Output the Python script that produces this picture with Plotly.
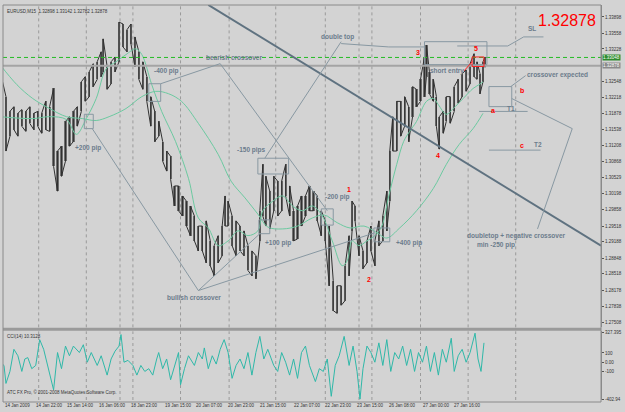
import plotly.graph_objects as go

# ---------------- data ----------------
symbol_title = "EURUSD,M15  1.32898 1.33142 1.32782 1.32878"
last_price = 1.32878
alert_price = 1.3305

bars = [2, 6, 10, 14, 18, 22, 26, 30, 34, 38, 42, 46, 50, 54, 58, 62, 66, 70, 74, 78,
        82, 86, 90, 94, 98, 102, 104, 108, 112, 116, 120, 124, 128, 132, 136, 140, 144, 148, 152, 156,
        160, 164, 168, 172, 176, 180, 184, 188, 192, 196, 200, 204, 208, 212, 216, 220, 224, 227, 230, 234,
        238, 242, 246, 250, 254, 258, 262, 265, 268, 272, 276, 280, 284, 288, 292, 296, 300, 304, 308, 312,
        316, 320, 324, 328, 332, 336, 340, 344, 348, 352, 355, 358, 362, 366, 370, 374, 378, 382, 386, 390,
        393, 396, 400, 404, 408, 412, 416, 420, 424, 428, 430, 433, 437, 440, 443, 447, 450, 454, 458, 462,
        466, 470, 474, 478, 481, 484, 487, 489]
high = [1.3259, 1.3223, 1.3192, 1.3202, 1.3188, 1.3196, 1.3192, 1.3202, 1.3188, 1.3192, 1.3188, 1.3213, 1.3202, 1.3240, 1.3109, 1.3119, 1.3171, 1.3181, 1.3192, 1.3202,
        1.3254, 1.3265, 1.3275, 1.3292, 1.3296, 1.3317, 1.3344, 1.3286, 1.3296, 1.3306, 1.3379, 1.3375, 1.3363, 1.3375, 1.3348, 1.3317, 1.3296, 1.3265, 1.3223, 1.3192,
        1.3171, 1.3129, 1.3109, 1.3098, 1.3036, 1.3036, 1.3015, 1.3004, 1.2994, 1.2973, 1.2952, 1.2952, 1.2963, 1.2921, 1.2911, 1.2932, 1.2952, 1.3015, 1.3004, 1.2973,
        1.2963, 1.2952, 1.2942, 1.2911, 1.2900, 1.2890, 1.2984, 1.3081, 1.3056, 1.3025, 1.3056, 1.3046, 1.3046, 1.3081, 1.3036, 1.2984, 1.2994, 1.3015, 1.3015, 1.3036,
        1.3025, 1.3015, 1.2984, 1.2963, 1.2952, 1.2838, 1.2827, 1.2827, 1.2869, 1.2932, 1.3004, 1.2994, 1.2932, 1.2900, 1.2921, 1.2952, 1.2921, 1.2963, 1.2973, 1.3025,
        1.3109, 1.3181, 1.3213, 1.3213, 1.3223, 1.3202, 1.3244, 1.3238, 1.3259, 1.3306, 1.3331, 1.3275, 1.3259, 1.3223, 1.3181, 1.3192, 1.3223, 1.3223, 1.3244, 1.3259,
        1.3271, 1.3279, 1.3292, 1.3313, 1.3296, 1.3271, 1.3296, 1.3306]
low = [1.3238, 1.3109, 1.3140, 1.3154, 1.3140, 1.3161, 1.3150, 1.3167, 1.3154, 1.3161, 1.3146, 1.3154, 1.3150, 1.3077, 1.3025, 1.3056, 1.3088, 1.3119, 1.3129, 1.3161,
       1.3192, 1.3213, 1.3223, 1.3244, 1.3259, 1.3265, 1.3275, 1.3238, 1.3250, 1.3275, 1.3296, 1.3327, 1.3317, 1.3334, 1.3286, 1.3259, 1.3238, 1.3213, 1.3161, 1.3129,
       1.3140, 1.3088, 1.3067, 1.3050, 1.2994, 1.2984, 1.2973, 1.2952, 1.2932, 1.2921, 1.2900, 1.2900, 1.2875, 1.2869, 1.2848, 1.2875, 1.2890, 1.2952, 1.2952, 1.2911,
       1.2890, 1.2900, 1.2890, 1.2859, 1.2848, 1.2842, 1.2921, 1.2973, 1.2952, 1.2946, 1.2984, 1.2973, 1.2984, 1.3015, 1.2973, 1.2921, 1.2925, 1.2952, 1.2973, 1.2984,
       1.2984, 1.2963, 1.2932, 1.2921, 1.2827, 1.2775, 1.2769, 1.2786, 1.2796, 1.2848, 1.2942, 1.2963, 1.2890, 1.2863, 1.2875, 1.2900, 1.2869, 1.2911, 1.2921, 1.2942,
       1.3004, 1.3109, 1.3109, 1.3140, 1.3161, 1.3129, 1.3181, 1.3202, 1.3213, 1.3223, 1.3265, 1.3229, 1.3213, 1.3161, 1.3113, 1.3146, 1.3171, 1.3167, 1.3192, 1.3209,
       1.3223, 1.3234, 1.3250, 1.3265, 1.3259, 1.3229, 1.3254, 1.3284]

fast_bars = [0, 33, 50, 67, 77, 87, 97, 107, 117, 127, 137, 143, 153, 163, 177, 190, 200, 210, 220, 230,
             240, 250, 260, 265, 275, 285, 295, 305, 315, 325, 335, 345, 350, 355, 362, 370, 378, 385, 392, 400,
             407, 413, 420, 430, 437, 442, 450, 457, 467, 477, 483, 487]
fast_ma = [1.3181, 1.3177, 1.3181, 1.3175, 1.3144, 1.3177, 1.3219, 1.3281, 1.3296, 1.3311, 1.3323, 1.3311, 1.3248, 1.3192, 1.3129, 1.3052, 1.2969, 1.2948, 1.2911, 1.2921,
           1.2942, 1.2932, 1.2942, 1.2984, 1.3004, 1.3015, 1.2994, 1.2984, 1.2994, 1.2973, 1.2921, 1.2869, 1.2879, 1.2921, 1.2911, 1.2921, 1.2932, 1.2952, 1.3015, 1.3081,
           1.3129, 1.3150, 1.3171, 1.3213, 1.3219, 1.3206, 1.3186, 1.3198, 1.3219, 1.3240, 1.3248, 1.3254]

slow_bars = [0, 17, 33, 50, 67, 83, 97, 110, 127, 143, 157, 170, 183, 200, 220, 233, 247, 260, 270, 285,
             300, 315, 327, 340, 353, 367, 380, 390, 403, 420, 437, 450, 463, 477, 487]
slow_ma = [1.3290, 1.3248, 1.3219, 1.3198, 1.3181, 1.3177, 1.3173, 1.3181, 1.3198, 1.3223, 1.3234, 1.3229, 1.3213, 1.3167, 1.3102, 1.3046, 1.3011, 1.2977, 1.2950, 1.2946,
           1.2952, 1.2969, 1.2975, 1.2959, 1.2948, 1.2952, 1.2938, 1.2927, 1.2948, 1.2984, 1.3031, 1.3081, 1.3123, 1.3156, 1.3188]

cci_bars = [0, 4, 6, 10, 14, 18, 22, 25, 28, 32, 36, 40, 44, 48, 54, 58, 62, 66, 70, 74,
            80, 84, 88, 92, 98, 102, 108, 112, 116, 120, 122, 125, 129, 134, 138, 142, 146, 150, 154, 158,
            160, 164, 168, 172, 176, 180, 182, 186, 190, 196, 200, 204, 206, 210, 214, 218, 222, 226, 230, 234,
            238, 242, 246, 250, 254, 258, 262, 266, 270, 276, 280, 284, 288, 292, 296, 300, 304, 308, 312, 318,
            322, 326, 330, 334, 338, 342, 347, 352, 356, 360, 363, 366, 370, 374, 378, 382, 386, 390, 394, 398,
            402, 406, 410, 414, 418, 422, 426, 430, 434, 438, 442, 446, 450, 455, 458, 462, 466, 470, 474, 479,
            482, 485, 488]
cci = [0, -35, -230, -100, 140, 70, -100, 35, 50, -70, -35, 245, 140, -35, -300, 105, -70, 175, 70, 175,
       105, 190, 0, 105, -35, 70, -140, 35, 120, 175, 300, 0, 20, -35, -140, -35, -100, -70, -140, 35,
       105, -70, 35, -190, -35, 105, -245, -70, 70, -35, 105, 35, 155, -70, 70, -20, 140, 245, 105, -175,
       -35, 35, -70, 105, -140, 105, 280, 35, 140, -35, -100, 105, 0, -140, 35, -175, 105, 175, -35, -210,
       -70, -100, 35, -370, -35, 70, 280, -35, 175, -100, -400, -70, 175, 105, 0, 210, -35, 245, -100, 105,
       35, 175, -35, 140, -100, 105, 0, 175, -100, 105, -140, 140, 0, 260, -100, 70, 140, 0, 105, 315,
       35, -100, 210]

price_ticks = [1.33898, 1.33558, 1.33228, 1.32548, 1.32218, 1.31878, 1.31538, 1.31208, 1.30868, 1.30529,
               1.30198, 1.29858, 1.29518, 1.29188, 1.28848, 1.28518, 1.28178, 1.27838, 1.27508]
cci_ticks = [327.395, 100, 0, -100, -402.94]
cci_tick_text = ["327.395", "100", "0.00", "-100", "-402.94"]

date_bars = [3, 34, 66, 98, 130, 164, 196, 228, 260, 294, 326, 358, 390, 424, 456]
date_labels = ["14 Jan 2009", "14 Jan 22:00", "15 Jan 14:00", "16 Jan 06:00", "18 Jan 23:00",
               "19 Jan 15:00", "20 Jan 07:00", "20 Jan 23:00", "21 Jan 15:00", "22 Jan 07:00",
               "22 Jan 23:00", "23 Jan 15:00", "26 Jan 08:00", "27 Jan 00:00", "27 Jan 16:00"]
grid_bars = [39, 87, 121, 134, 182, 231, 278, 328, 362, 375, 424, 472, 520]

# user-drawn chart objects (bar, price)
labels = [("bearish crossover", 236, 1.3304), ("-400 pip", 168, 1.3277), ("+200 pip", 89, 1.3115),
          ("bullish crossover", 196, 1.2802), ("-150 pips", 254, 1.3111), ("+100 pip", 280, 1.2917),
          ("-200 pip", 340, 1.3013), ("+400 pip", 412, 1.2917), ("double top", 340, 1.3348),
          ("short entry", 451, 1.3277), ("SL", 536, 1.3365), ("crossover expected", 562, 1.3269),
          ("T1", 515, 1.3198), ("T2", 542, 1.3123), ("doubletop + negative crossover", 521, 1.2932),
          ("min -250 pip", 500, 1.2913)]
marks = [("1", 352, 1.3029), ("2", 372, 1.2840), ("3", 421, 1.3315), ("4", 442, 1.3100),
         ("5", 480, 1.3323), ("a", 497, 1.3194), ("b", 526, 1.3236), ("c", 526, 1.3121)]
boxes = [(150, 162, 1.3250, 1.3213), (85, 94, 1.3186, 1.3156), (260, 291, 1.3094, 1.3061),
         (261, 272, 1.2965, 1.2936), (324, 336, 1.2988, 1.2954), (377, 393, 1.2948, 1.2919),
         (428, 491, 1.3338, 1.3290), (493, 516, 1.3244, 1.3202)]
polylines = [[(162, 1.3250), (222, 1.3292)],
             [(222, 1.3292), (330, 1.2984)],
             [(267, 1.3094), (344, 1.3338)],
             [(344, 1.3334), (392, 1.3327), (428, 1.3327)],
             [(93, 1.3156), (200, 1.2817)],
             [(200, 1.2817), (262, 1.2936)],
             [(200, 1.2817), (378, 1.2938)],
             [(516, 1.3219), (577, 1.3156), (542, 1.2946)],
             [(530, 1.3267), (515, 1.3244)],
             [(461, 1.3329), (512, 1.3329), (528, 1.3348), (548, 1.3348)],
             [(483, 1.3192), (532, 1.3192)],
             [(493, 1.3111), (545, 1.3111)]]
trendline = [(210, 1.3415), (606, 1.2911)]
red_box = (476, 488, 1.3306, 1.3286)
red_line = [(476, 1.3296), (468, 1.3277)]

# ---------------- figure ----------------
BG = "#d3d3d3"
TXT = "#6c7c8c"
GRID = "#9a9a9a"
DRAW = "#8898a2"

fig = go.Figure()

# candle ranges (vertical bars from low to high) + connecting zigzag
fig.add_trace(go.Bar(x=bars, y=[h - l for h, l in zip(high, low)], base=low, width=2.2,
                     marker=dict(color="#707070", line=dict(width=0)), yaxis="y"))
zx, zy = [], []
for i, (b, h, l) in enumerate(zip(bars, high, low)):
    zx += [b, b]
    zy += [l, h] if i % 2 == 0 else [h, l]
fig.add_trace(go.Scatter(x=zx, y=zy, mode="lines", line=dict(color="#303030", width=1), yaxis="y"))
fig.add_trace(go.Scatter(x=slow_bars, y=slow_ma, mode="lines", line=dict(color="#6cc9a0", width=1, shape="spline"), yaxis="y"))
fig.add_trace(go.Scatter(x=fast_bars, y=fast_ma, mode="lines", line=dict(color="#6cc9a0", width=1, shape="spline"), yaxis="y"))
fig.add_trace(go.Scatter(x=cci_bars, y=cci, mode="lines", line=dict(color="#2fb8a8", width=1), yaxis="y2"))

shapes = []
for g in grid_bars:
    for yr in ("y domain", "y2 domain"):
        shapes.append(dict(type="line", xref="x", yref=yr, x0=g, x1=g, y0=0, y1=1, layer="below",
                           line=dict(color=GRID, width=1, dash="dot")))
shapes.append(dict(type="line", xref="x", yref="y", x0=3, x1=606, y0=alert_price, y1=alert_price,
                   line=dict(color="#22bb22", width=1, dash="4px,3px")))
shapes.append(dict(type="line", xref="x", yref="y", x0=3, x1=606, y0=last_price, y1=last_price,
                   line=dict(color="#a4a4a4", width=2)))
shapes.append(dict(type="line", xref="x", yref="y", x0=trendline[0][0], y0=trendline[0][1],
                   x1=trendline[1][0], y1=trendline[1][1], line=dict(color="#5f7280", width=2)))
for pl in polylines:
    for (a, b) in zip(pl[:-1], pl[1:]):
        shapes.append(dict(type="line", xref="x", yref="y", x0=a[0], y0=a[1], x1=b[0], y1=b[1],
                           line=dict(color=DRAW, width=1)))
for (x0, x1, y0, y1) in boxes:
    shapes.append(dict(type="rect", xref="x", yref="y", x0=x0, x1=x1, y0=y0, y1=y1,
                       line=dict(color=DRAW, width=1)))
shapes.append(dict(type="rect", xref="x", yref="y", x0=red_box[0], x1=red_box[1], y0=red_box[2], y1=red_box[3],
                   line=dict(color="#ff2020", width=1)))
shapes.append(dict(type="line", xref="x", yref="y", x0=red_line[0][0], y0=red_line[0][1],
                   x1=red_line[1][0], y1=red_line[1][1], line=dict(color="#ff2020", width=1)))
# frame / separators
shapes.append(dict(type="line", xref="paper", yref="paper", x0=0, x1=1, y0=0.183, y1=0.183,
                   line=dict(color="#9a9a9a", width=3)))
shapes.append(dict(type="rect", xref="paper", yref="paper", x0=0, x1=1, y0=0.0, y1=1,
                   line=dict(color="#8a8a8a", width=1)))

ann = []
for t, b, p in labels:
    ann.append(dict(text="<b>%s</b>" % t, x=b, y=p, xref="x", yref="y", showarrow=False,
                    font=dict(family="Liberation Sans", size=6.5, color=TXT)))
for t, b, p in marks:
    ann.append(dict(text="<b>%s</b>" % t, x=b, y=p, xref="x", yref="y", showarrow=False,
                    font=dict(family="Liberation Sans", size=7, color="#ff0000")))
for b, t in zip(date_bars, date_labels):
    ann.append(dict(text=t, x=b, y=-0.008, xref="x", yref="paper", xanchor="left", yanchor="middle",
                    showarrow=False, font=dict(family="Liberation Sans", size=4.5, color="#333333")))
ann.append(dict(text="%.5f" % last_price, x=0.995, y=1.3382, xref="paper", yref="y", xanchor="right",
                showarrow=False, font=dict(family="Liberation Sans", size=16, color="#ff0000")))
ann.append(dict(text=symbol_title, x=0.003, y=0.994, xref="paper", yref="paper", xanchor="left", yanchor="top",
                showarrow=False, font=dict(family="Liberation Sans", size=4.5, color="#333333")))
ann.append(dict(text="CCI(14) 10.3128", x=0.003, y=0.176, xref="paper", yref="paper", xanchor="left", yanchor="top",
                showarrow=False, font=dict(family="Liberation Sans", size=4.5, color="#333333")))
ann.append(dict(text="ATC FX Pro, \u00a9 2001-2008 MetaQuotes Software Corp.", x=0.003, y=0.012, xref="paper",
                yref="paper", xanchor="left", yanchor="bottom", showarrow=False,
                font=dict(family="Liberation Sans", size=4.5, color="#333333")))
ann.append(dict(text="1.33048", x=1.002, y=alert_price, xref="paper", yref="y", xanchor="left", showarrow=False,
                bgcolor="#2e8b2e", font=dict(family="Liberation Sans", size=4.5, color="white"), borderpad=0))
ann.append(dict(text="%.5f" % last_price, x=1.002, y=last_price, xref="paper", yref="y", xanchor="left",
                showarrow=False, bgcolor="#8a8a8a", font=dict(family="Liberation Sans", size=4.5, color="white"),
                borderpad=0))

fig.update_layout(
    width=625, height=412, margin=dict(l=3, r=19, t=3, b=10),
    paper_bgcolor=BG, plot_bgcolor=BG, showlegend=False,
    shapes=shapes, annotations=ann, bargap=0,
    xaxis=dict(range=[3, 606], showgrid=False, zeroline=False, showticklabels=False, anchor="y2", fixedrange=True),
    yaxis=dict(domain=[0.188, 1], range=[1.27399, 1.34148], side="right", tickvals=price_ticks,
               ticktext=["%.5f" % v for v in price_ticks], tickfont=dict(family="Liberation Sans", size=4.5, color="#333333"),
               showgrid=False, zeroline=False, ticks="outside", ticklen=2, tickcolor="#555555",
               showline=True, linecolor="#8a8a8a", anchor="x"),
    yaxis2=dict(domain=[0.005, 0.178], range=[-410, 335], side="right", tickvals=cci_ticks, ticktext=cci_tick_text,
                tickfont=dict(family="Liberation Sans", size=4.5, color="#333333"),
                showgrid=False, zeroline=False, ticks="outside", ticklen=2, tickcolor="#555555",
                showline=True, linecolor="#8a8a8a", anchor="x"),
)

fig.write_html("out.html")
